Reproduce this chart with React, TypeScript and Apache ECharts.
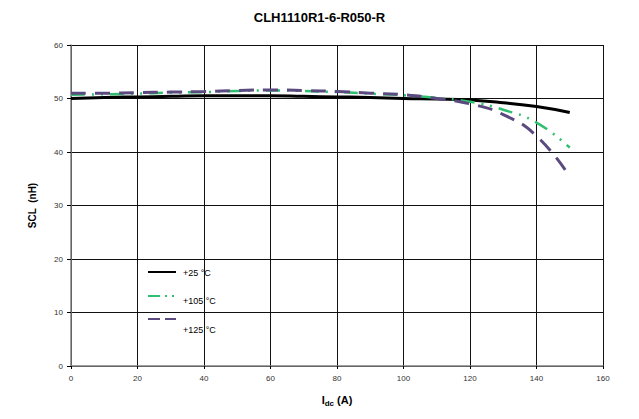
import React, { useEffect, useRef } from "react";
import * as echarts from "echarts";

const xValues = [0, 10, 20, 30, 40, 50, 60, 70, 80, 90, 100, 110, 120, 130, 140, 150];
const scl25 = [50.0, 50.2, 50.3, 50.4, 50.5, 50.5, 50.5, 50.4, 50.3, 50.2, 50.0, 49.9, 49.7, 49.2, 48.5, 47.4];
const scl105 = [50.7, 50.8, 50.9, 51.1, 51.2, 51.4, 51.5, 51.4, 51.2, 50.9, 50.6, 50.1, 49.4, 47.9, 45.5, 40.8];
const scl125 = [51.0, 51.0, 51.1, 51.2, 51.3, 51.5, 51.6, 51.5, 51.3, 51.0, 50.7, 50.0, 49.0, 47.0, 43.0, 35.4];
const seriesNames = ["+25 °C", "+105 °C", "+125 °C"];

const FONT = "Liberation Sans, Arial, sans-serif";

export default function App() {
  const ref = useRef<HTMLDivElement>(null);
  useEffect(() => {
    const chart = echarts.init(ref.current!, null, { renderer: "svg" });
    const pair = (ys: number[]) => xValues.map((x, i) => [x, ys[i]]);
    const colors = ["#000000", "#2fbf6e", "#5b4a80"];
    const legendY = [272, 296, 319];
    const legendStyles: any[] = [
      { lineDash: null, lineWidth: 2 },
      { lineDash: [12, 5, 2, 5, 2, 5], lineWidth: 2 },
      { lineDash: [12, 5], lineWidth: 2 },
    ];
    const textY = [273, 301, 330];
    const graphics: any[] = [];
    seriesNames.forEach((n, i) => {
      graphics.push({
        type: "line",
        shape: { x1: 148, y1: legendY[i], x2: 176, y2: legendY[i] },
        style: { stroke: colors[i], lineWidth: legendStyles[i].lineWidth, lineDash: legendStyles[i].lineDash },
        z: 10,
      });
      graphics.push({
        type: "text",
        x: 183,
        y: textY[i],
        style: { text: n, fill: "#000", font: `9px ${FONT}`, verticalAlign: "middle", textAlign: "left" },
        z: 10,
      });
    });
    chart.setOption({
      animation: false,
      backgroundColor: "#ffffff",
      title: {
        text: "CLH1110R1-6-R050-R",
        left: "center",
        top: 6,
        textStyle: { fontFamily: FONT, fontSize: 13, fontWeight: "bold", color: "#000" },
      },
      grid: { left: 71, right: 36, top: 45, bottom: 53 },
      xAxis: {
        type: "value",
        min: 0,
        max: 160,
        interval: 20,
        name: "{m|I}{s|dc}{m| (A)}",
        nameLocation: "middle",
        nameGap: 27,
        nameTextStyle: {
          rich: {
            m: { fontFamily: FONT, fontSize: 11, fontWeight: "bold", color: "#000" },
            s: { fontFamily: FONT, fontSize: 8, fontWeight: "bold", color: "#000", verticalAlign: "bottom", padding: [6, 0, 0, 0] },
          },
        },
        axisLine: { lineStyle: { color: "#808080", width: 1.5 } },
        axisTick: { show: true, length: 3, inside: false, lineStyle: { color: "#000" } },
        axisLabel: { fontFamily: FONT, fontSize: 8, color: "#333", margin: 8 },
        splitLine: { show: true, lineStyle: { color: "#111", width: 1 } },
      },
      yAxis: {
        type: "value",
        min: 0,
        max: 60,
        interval: 10,
        name: "SCL  (nH)",
        nameLocation: "middle",
        nameGap: 34,
        nameTextStyle: { fontFamily: FONT, fontSize: 10, fontWeight: "bold", color: "#000" },
        axisLine: { show: true, lineStyle: { color: "#808080", width: 1.5 } },
        axisTick: { show: true, length: 4, lineStyle: { color: "#000" } },
        axisLabel: { fontFamily: FONT, fontSize: 8, color: "#333", margin: 8 },
        splitLine: { show: true, lineStyle: { color: "#111", width: 1 } },
      },
      graphic: graphics,
      series: [
        {
          name: seriesNames[0],
          type: "line",
          data: pair(scl25),
          smooth: true,
          showSymbol: false,
          lineStyle: { color: colors[0], width: 3 },
          z: 3,
        },
        {
          name: seriesNames[1],
          type: "line",
          data: pair(scl105),
          smooth: true,
          showSymbol: false,
          lineStyle: { color: colors[1], width: 2.5, type: [14, 7, 2, 7, 2, 7] },
          z: 4,
        },
        {
          name: seriesNames[2],
          type: "line",
          data: pair(scl125),
          smooth: true,
          showSymbol: false,
          lineStyle: { color: colors[2], width: 3, type: [15, 9] },
          z: 5,
        },
      ],
    });
    return () => chart.dispose();
  }, []);
  return <div ref={ref} style={{ width: 639, height: 419, position: "absolute", left: 0, top: 0 }} />;
}
